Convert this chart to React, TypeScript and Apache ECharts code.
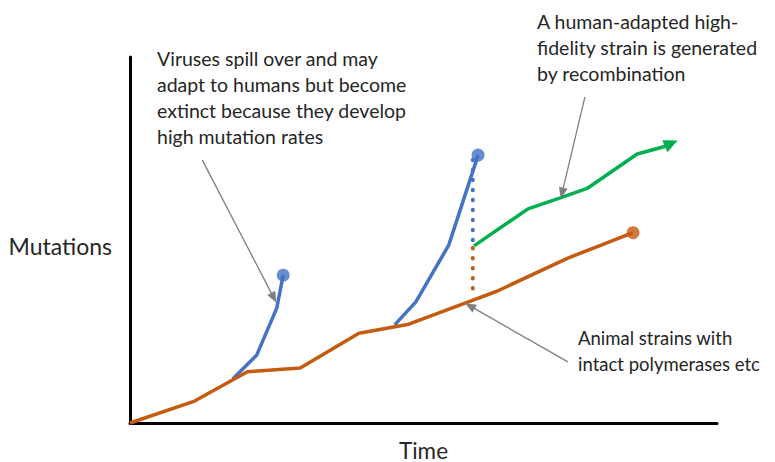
import React, { useEffect, useRef } from "react";
import * as echarts from "echarts";

// Data in arbitrary units: time (x, 0-100) and mutations (y, 0-100)
const animalStrain: number[][] = [
  [0, 0], [11, 6], [20, 14], [29, 15], [39, 24.5], [47.5, 27],
  [58, 33.3], [62.5, 36], [74.5, 45], [85.7, 52],
];
const spillover1: number[][] = [[17.5, 12], [21.6, 18.6], [25, 31.4], [26.1, 40.4]];
const spillover2: number[][] = [[45.1, 26.8], [48.7, 33.1], [54.3, 48.6], [59.3, 73.2]];
const blueDotted: number[][] = [[58.4, 71.9], [58.4, 48.1]];
const orangeDotted: number[][] = [[58.4, 47.8], [58.4, 34.7]];
const recombinant: number[][] = [
  [58.6, 48.4], [67.8, 58.5], [73.3, 61.5], [78, 64.2], [86.4, 73.5], [90.8, 75.4],
];
const recombinantTip: number[] = [92.2, 76.4];

// Annotation arrows: [from, to]
const annotationArrows: number[][][] = [
  [[12.3, 71.9], [24.5, 34.2]],
  [[77.5, 89.1], [73.6, 62.8]],
  [[74.6, 16.7], [57.9, 32.0]],
];
const annotationTexts: string[] = [
  "Viruses spill over and may\nadapt to humans but become\nextinct because they develop\nhigh mutation rates",
  "A human-adapted high-\nfidelity strain is generated\nby recombination",
  "Animal strains with\nintact polymerases etc",
];
const xAxisName = "Time";
const yAxisName = "Mutations";

const BLUE = "#4472C4";
const ORANGE = "#C55A11";
const GREEN = "#00B050";
const GRAY = "#7F7F7F";
const FONT = "Lato";

export default function App() {
  const ref = useRef<HTMLDivElement>(null);
  useEffect(() => {
    if (!ref.current) return;
    const chart = echarts.init(ref.current, undefined, { renderer: "svg" });
    const last = (a: number[][]) => a[a.length - 1];
    const textPos = [
      { left: 157, top: 45, size: 19.5 },
      { left: 537, top: 8, size: 19.5 },
      { left: 578, top: 325, size: 18.5 },
    ];
    chart.setOption({
      animation: false,
      grid: {
        left: 130, right: 58, top: 57, bottom: 39,
        containLabel: false, outerBoundsMode: "none",
      },
      xAxis: {
        type: "value", min: 0, max: 100,
        name: xAxisName, nameLocation: "middle", nameGap: 18,
        nameTextStyle: {
          fontFamily: FONT, fontSize: 22.5, color: "#262626",
          verticalAlign: "top", lineHeight: 18,
        },
        axisLine: { show: true, lineStyle: { color: "#000", width: 3 } },
        axisTick: { show: false }, axisLabel: { show: false }, splitLine: { show: false },
      },
      yAxis: {
        type: "value", min: 0, max: 100,
        name: yAxisName, nameLocation: "middle", nameGap: 18, nameRotate: 0,
        nameTextStyle: {
          fontFamily: FONT, fontSize: 23, color: "#262626",
          verticalAlign: "top", lineHeight: 12,
        },
        axisLine: { show: true, lineStyle: { color: "#000", width: 3 } },
        axisTick: { show: false }, axisLabel: { show: false }, splitLine: { show: false },
      },
      graphic: annotationTexts.map((t, i) => ({
        type: "text",
        left: textPos[i].left,
        top: textPos[i].top,
        style: { text: t, fontFamily: FONT, fontSize: textPos[i].size, lineHeight: 26, fill: "#262626" },
      })),
      series: [
        {
          type: "line", data: animalStrain, symbol: "none",
          lineStyle: { color: ORANGE, width: 3.5 }, z: 3,
          markLine: {
            silent: true, symbol: ["none", "triangle"], symbolSize: [9, 11],
            label: { show: false },
            lineStyle: { color: GRAY, width: 1.3, type: "solid" },
            data: annotationArrows.map((a) => [{ coord: a[0] }, { coord: a[1] }]),
          },
        },
        { type: "line", data: spillover1, symbol: "none", lineStyle: { color: BLUE, width: 3.5 }, z: 2 },
        { type: "line", data: spillover2, symbol: "none", lineStyle: { color: BLUE, width: 3.5 }, z: 2 },
        {
          type: "line", data: blueDotted, symbol: "none",
          lineStyle: { color: BLUE, width: 4, type: [0.5, 9.5], cap: "round" },
        },
        {
          type: "line", data: orangeDotted, symbol: "none",
          lineStyle: { color: ORANGE, width: 4, type: [0.5, 9.5], cap: "round" },
        },
        {
          type: "line", data: recombinant, symbol: "none",
          lineStyle: { color: GREEN, width: 3.5 }, z: 4,
          markLine: {
            silent: true, symbol: ["none", "triangle"], symbolSize: [13, 14],
            label: { show: false },
            lineStyle: { color: GREEN, width: 3.5, type: "solid" },
            data: [[{ coord: last(recombinant) }, { coord: recombinantTip }]],
          },
        },
        {
          type: "scatter", symbol: "circle", symbolSize: 13,
          data: [
            { value: last(spillover1), itemStyle: { color: BLUE } },
            { value: last(spillover2), itemStyle: { color: BLUE } },
            { value: last(animalStrain), itemStyle: { color: ORANGE } },
          ],
          z: 5,
        },
      ],
    });
    return () => chart.dispose();
  }, []);
  return (
    <div
      ref={ref}
      style={{ position: "absolute", left: 0, top: 0, width: 775, height: 462 }}
    />
  );
}
